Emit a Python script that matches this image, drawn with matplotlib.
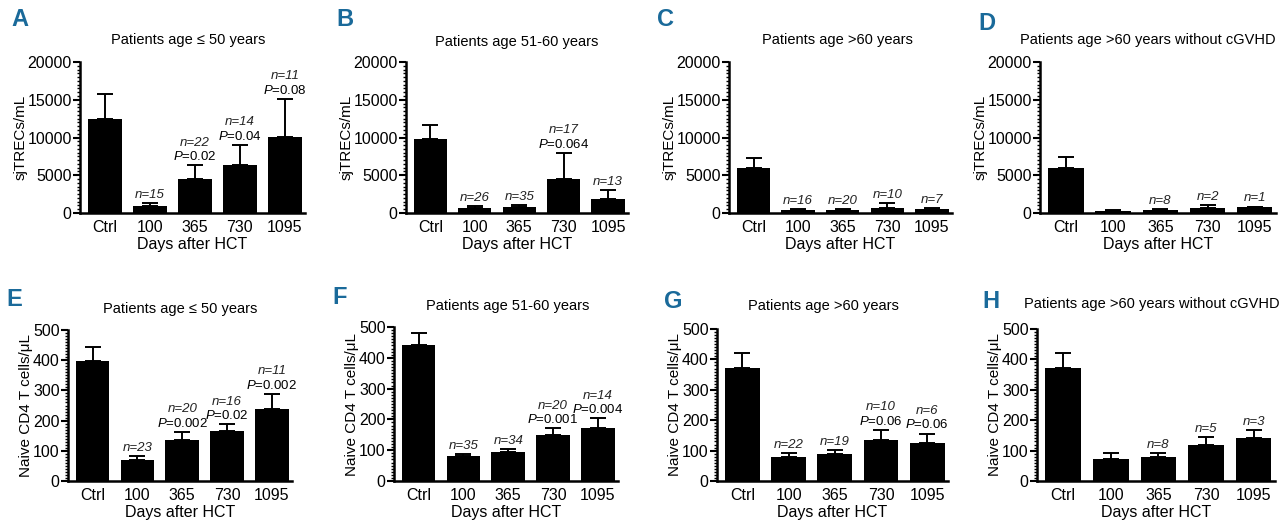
import matplotlib
matplotlib.use('Agg')
import matplotlib.pyplot as plt
from matplotlib.ticker import MultipleLocator
import numpy as np

plt.rcParams['font.family'] = ['Liberation Sans', 'DejaVu Sans']
plt.rcParams['mathtext.fontset'] = 'custom'
plt.rcParams['mathtext.rm'] = 'Liberation Sans'
plt.rcParams['mathtext.it'] = 'Liberation Sans:italic'

groups = ['Ctrl', '100', '365', '730', '1095']

# sjTRECs/mL (top row)
trec_a = [12500, 950, 4500, 6300, 10100]
trec_a_err = [3200, 350, 1800, 2700, 5000]
trec_b = [9800, 680, 850, 4500, 1900]
trec_b_err = [1800, 250, 250, 3500, 1100]
trec_c = [5950, 380, 380, 650, 520]
trec_c_err = [1400, 120, 120, 700, 150]
trec_d = [6000, 300, 400, 700, 800]
trec_d_err = [1400, 100, 120, 400, 50]

# naive CD4 T cells/uL (bottom row)
cd4_e = [396, 70, 137, 164, 240]
cd4_e_err = [48, 12, 25, 24, 48]
cd4_f = [440, 82, 93, 148, 172]
cd4_f_err = [41, 6, 11, 23, 32]
cd4_g = [372, 80, 89, 134, 126]
cd4_g_err = [49, 13, 14, 35, 30]
cd4_h = [372, 72, 80, 120, 140]
cd4_h_err = [49, 21, 13, 26, 29]

n_a = ['', 'n=15', 'n=22', 'n=14', 'n=11']
p_a = ['', '', '0.02', '0.04', '0.08']
n_b = ['', 'n=26', 'n=35', 'n=17', 'n=13']
p_b = ['', '', '', '0.064', '']
n_c = ['', 'n=16', 'n=20', 'n=10', 'n=7']
p_c = ['', '', '', '', '']
n_d = ['', '', 'n=8', 'n=2', 'n=1']
p_d = ['', '', '', '', '']
n_e = ['', 'n=23', 'n=20', 'n=16', 'n=11']
p_e = ['', '', '0.002', '0.02', '0.002']
n_f = ['', 'n=35', 'n=34', 'n=20', 'n=14']
p_f = ['', '', '', '0.001', '0.004']
n_g = ['', 'n=22', 'n=19', 'n=10', 'n=6']
p_g = ['', '', '', '0.06', '0.06']
n_h = ['', '', 'n=8', 'n=5', 'n=3']
p_h = ['', '', '', '', '']

titles = ['Patients age \u2264 50 years', 'Patients age 51-60 years',
          'Patients age >60 years', 'Patients age >60 years without cGVHD']

W, H = 1280, 529
fig = plt.figure(figsize=(12.8, 5.29), dpi=100)


def panel(box, letter, letter_xy, title, title_xy, vals, errs, ns, ps, ylabel, ymax, major, minor):
    l, r, t, b = box
    ax = fig.add_axes([l / W, 1 - b / H, (r - l) / W, (b - t) / H])
    x = np.arange(len(groups))
    ax.bar(x, vals, width=0.75, color='black', zorder=2)
    ax.errorbar(x, vals, yerr=[np.zeros(len(vals)), errs], fmt='none',
                ecolor='black', elinewidth=1.4, capsize=6, capthick=1.4, zorder=1)
    ax.set_xlim(-0.55, 4.45)
    ax.set_ylim(0, ymax)
    ax.set_xticks(x)
    ax.set_xticklabels(groups, fontsize=11.5)
    ax.tick_params(axis='x', length=0, pad=5)
    ax.yaxis.set_major_locator(MultipleLocator(major))
    ax.yaxis.set_minor_locator(MultipleLocator(minor))
    ax.tick_params(axis='y', which='major', length=5, width=1.5, labelsize=11.5, pad=1)
    ax.tick_params(axis='y', which='minor', length=2.5, width=1.0)
    ax.spines['top'].set_visible(False)
    ax.spines['right'].set_visible(False)
    ax.spines['left'].set_linewidth(1.8)
    ax.spines['bottom'].set_linewidth(1.8)
    ax.set_xlabel('Days after HCT', fontsize=11.5, labelpad=1.5)
    ax.set_ylabel(ylabel, fontsize=11, labelpad=0)
    for i in range(len(groups)):
        top = vals[i] + errs[i]
        off = 1.5
        if ps[i]:
            ax.annotate(r'$\mathit{P}$=' + ps[i], (x[i], top), xytext=(0, off),
                        textcoords='offset points', ha='center', va='bottom', fontsize=9.5)
            off += 10.5
        if ns[i]:
            ax.annotate(ns[i], (x[i], top), xytext=(0, off), textcoords='offset points',
                        ha='center', va='bottom', fontsize=9.5, style='italic', color='#222222')
    fig.text(title_xy[0] / W, 1 - title_xy[1] / H, title, ha='center', va='center', fontsize=10.5)
    fig.text(letter_xy[0] / W, 1 - letter_xy[1] / H, letter, ha='center', va='center',
             fontsize=17, fontweight='bold', color='#1a6a9a')
    return ax


panel((80, 305, 62, 213), 'A', (20, 19), titles[0], (188, 40), trec_a, trec_a_err, n_a, p_a,
      'sjTRECs/mL', 20000, 5000, 500)
panel((406, 628, 62, 213), 'B', (345, 19), titles[1], (517, 42), trec_b, trec_b_err, n_b, p_b,
      'sjTRECs/mL', 20000, 5000, 500)
panel((729, 952, 62, 213), 'C', (666, 19), titles[2], (837, 40), trec_c, trec_c_err, n_c, p_c,
      'sjTRECs/mL', 20000, 5000, 500)
panel((1040, 1276, 62, 213), 'D', (987, 24), titles[3], (1148, 40), trec_d, trec_d_err, n_d, p_d,
      'sjTRECs/mL', 20000, 5000, 500)
panel((68, 292, 330, 481), 'E', (14, 299), titles[0], (180, 309), cd4_e, cd4_e_err, n_e, p_e,
      'Naive CD4 T cells/\u03bcL', 500, 100, 10)
panel((394, 618, 327, 481), 'F', (340, 297), titles[1], (508, 306), cd4_f, cd4_f_err, n_f, p_f,
      'Naive CD4 T cells/\u03bcL', 500, 100, 10)
panel((717, 948, 329, 481), 'G', (673, 301), titles[2], (823, 306), cd4_g, cd4_g_err, n_g, p_g,
      'Naive CD4 T cells/\u03bcL', 500, 100, 10)
panel((1037, 1275, 329, 481), 'H', (991, 301), titles[3], (1152, 304), cd4_h, cd4_h_err, n_h, p_h,
      'Naive CD4 T cells/\u03bcL', 500, 100, 10)

fig.savefig('out.png', dpi=100)
